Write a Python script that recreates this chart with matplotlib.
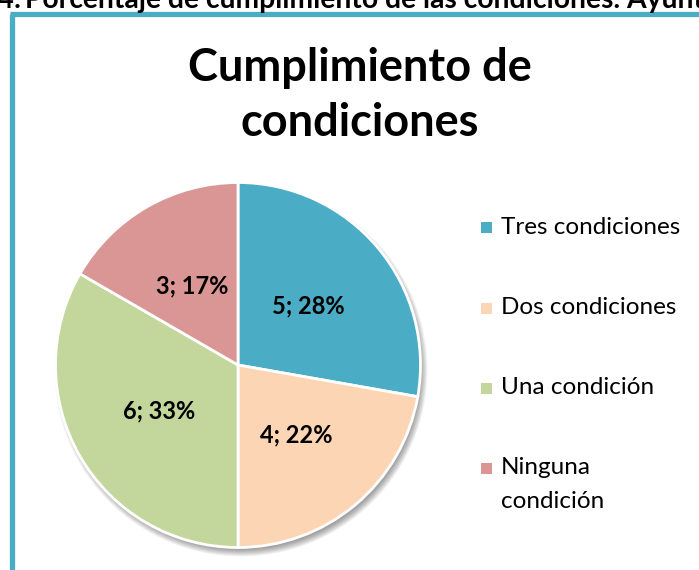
import matplotlib
matplotlib.use("Agg")
import matplotlib.pyplot as plt
from matplotlib.patches import Circle

# Data
categories = ["Tres condiciones", "Dos condiciones", "Una condición", "Ninguna\ncondición"]
counts = [5, 4, 6, 3]
colors = ["#4BACC6", "#FCD5B5", "#C3D69B", "#D99694"]
caption_num = "Gráfico 4:"
caption_main = "Porcentaje de cumplimiento de las condiciones."
caption_tail = "Ayuntamientos"

W, H = 699, 570
fig = plt.figure(figsize=(W / 100, H / 100), dpi=100)
ax = fig.add_axes([0, 0, 1, 1])
ax.set_xlim(0, W)
ax.set_ylim(0, H)
ax.set_aspect("equal")
ax.axis("off")

FONT = "Lato"

def Y(y):
    return H - y

# Caption above the chart frame (runs past the top edge of the page)
renderer = fig.canvas.get_renderer()
probe = ax.text(0, 0, caption_main, fontsize=18, fontweight="bold", family=FONT)
w18 = probe.get_window_extent(renderer).width
probe.remove()
cap_fs = 18 * 595 / w18
ax.text(21, Y(8), caption_num, fontsize=cap_fs, fontweight="bold", family=FONT,
        ha="right", va="baseline", color="black", clip_on=False)
ax.text(25, Y(8), caption_main + " " + caption_tail,
        fontsize=cap_fs, fontweight="bold", family=FONT, ha="left", va="baseline",
        color="black", clip_on=False)

# Chart frame
ax.plot([11.5, 11.5], [Y(14), -10], color="#4BACC6", lw=3.8, solid_capstyle="butt", clip_on=False)
ax.plot([9.6, W + 10], [Y(14), Y(14)], color="#4BACC6", lw=3.8, solid_capstyle="butt", clip_on=False)

cx, cy, r = 238, Y(365), 182.5

# Soft drop shadow under the pie
for i in range(10):
    ax.add_patch(Circle((cx + 3, cy - 5), r + 4 - i * 0.8, color="black",
                        alpha=0.045, lw=0, zorder=1))

total = sum(counts)
labels = [f"{c}; {round(100 * c / total)}%" for c in counts]
wedges, texts = ax.pie(counts, colors=colors, startangle=90, counterclock=False,
                       center=(cx, cy), radius=r, labels=labels, labeldistance=0.5,
                       wedgeprops=dict(edgecolor="white", linewidth=2),
                       textprops=dict(fontsize=17, fontweight="bold", family=FONT,
                                      color="black", ha="center", va="center"),
                       frame=True)
for w in wedges:
    w.set_zorder(2)
for t in texts:
    t.set_zorder(3)
ax.set_xlim(0, W)
ax.set_ylim(0, H)
ax.axis("off")

# Title
ax.text(360, Y(68), "Cumplimiento de", fontsize=32.5, fontweight="bold", family=FONT,
        ha="center", va="center")
ax.text(360, Y(123), "condiciones", fontsize=32.5, fontweight="bold", family=FONT,
        ha="center", va="center")

# Legend
leg_y = [227, 308, 388, 468]
for cat, col, yy in zip(categories, colors, leg_y):
    ax.add_patch(plt.Rectangle((481, Y(yy) - 5.5), 11, 11, color=col, lw=0))
    lines = cat.split("\n")
    for k, line in enumerate(lines):
        ax.text(501, Y(yy + 34 * k), line, fontsize=17.5, family=FONT,
                ha="left", va="center", color="black")

fig.savefig("out.png", dpi=100)
